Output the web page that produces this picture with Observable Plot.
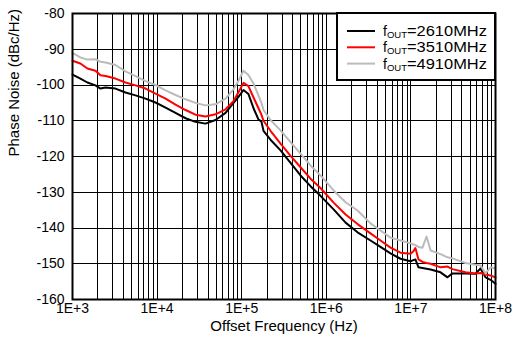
<!DOCTYPE html>
<html><head><meta charset="utf-8">
<script src="https://cdn.jsdelivr.net/npm/d3@7"></script>
<script src="https://cdn.jsdelivr.net/npm/@observablehq/plot@0.6"></script>
<style>body{margin:0;background:#fff}</style>
</head><body><div id="chart"></div>
<script>
// Offset frequencies (Hz) shared by the three traces
const freqHz = [1000,1240,1500,1870,2140,2460,3220,4230,5560,7300,9570,12600,16500,21700,28400,37300,49000,64400,80000,91600,105000,120000,138000,158000,171000,181000,219000,288000,378000,496000,651000,854000,1.22e6,1.69e6,2.34e6,3.33e6,4.37e6,5.74e6,7.54e6,9.9e6,1.07e7,1.13e7,1.23e7,1.37e7,1.53e7,1.71e7,2.24e7,2.71e7,3.1e7,4.42e7,5.8e7,6.66e7,7.62e7,8.73e7,1e8];
// Phase noise (dBc/Hz)
const pn2610 = [-97.1,-98.2,-99.3,-100.1,-101.0,-100.7,-101.0,-102.1,-102.9,-103.8,-104.9,-106.3,-107.8,-109.3,-110.3,-110.8,-109.8,-107.8,-105.0,-103.3,-101.4,-102.5,-106.5,-109.7,-110.2,-112.8,-115.3,-118.3,-121.8,-125.3,-128.3,-131.0,-134.8,-138.5,-141.2,-143.5,-145.3,-147.1,-148.6,-149.3,-149.0,-148.8,-151.0,-151.2,-151.4,-151.6,-152.4,-153.8,-152.7,-152.7,-152.8,-151.3,-153.8,-154.5,-155.6];
const pn3510 = [-93.2,-94.0,-95.4,-96.0,-97.3,-97.5,-98.2,-99.3,-100.1,-101.0,-102.4,-103.8,-105.5,-107.0,-108.3,-108.8,-108.2,-106.8,-104.5,-102.0,-99.4,-100.3,-103.5,-106.5,-108.3,-110.0,-112.8,-116.4,-119.8,-123.0,-126.2,-128.8,-132.9,-136.2,-138.9,-141.5,-143.5,-145.5,-146.9,-147.2,-146.5,-145.6,-148.8,-149.5,-149.8,-150.0,-151.0,-150.8,-151.5,-152.4,-152.7,-152.6,-153.0,-153.3,-153.8];
const pn4910 = [-91.0,-92.3,-92.9,-92.8,-93.5,-93.7,-94.4,-96.2,-97.5,-98.9,-100.0,-101.5,-102.8,-104.0,-105.0,-105.7,-105.4,-103.8,-101.2,-98.8,-96.0,-97.2,-99.6,-103.0,-105.0,-107.0,-109.8,-112.7,-116.0,-119.2,-122.5,-125.3,-129.5,-132.8,-135.1,-138.7,-140.7,-142.7,-143.5,-144.3,-144.6,-144.8,-145.3,-145.5,-142.4,-146.3,-147.3,-148.2,-148.5,-149.8,-150.3,-150.5,-152.7,-151.0,-151.3];
const seriesValues = [pn2610, pn3510, pn4910];
const seriesFreq = ["2610", "3510", "4910"];
const seriesColors = ["#000000", "#ff0000", "#bbbbbb"];
// Axes
const xTickValues = [1e3, 1e4, 1e5, 1e6, 1e7, 1e8];
const xTickLabels = ["1E+3", "1E+4", "1E+5", "1E+6", "1E+7", "1E+8"];
const yTickValues = [-160, -150, -140, -130, -120, -110, -100, -90, -80];
const gridDecades = [1e3, 1e4, 1e5, 1e6, 1e7];
const gridMantissas = [1, 2, 3, 4, 5, 6, 7, 8, 9];

const data = seriesValues.flatMap((vals, s) =>
  vals.map((v, i) => ({f: freqHz[i], pn: v, series: seriesFreq[s]})));
const vGrid = gridDecades.flatMap(d => gridMantissas.map(m => d * m)).concat([1e8]);

const font = "'Liberation Sans', Arial, Helvetica, sans-serif";
const svg = Plot.plot({
  width: 513, height: 343,
  marginLeft: 72, marginRight: 18, marginTop: 13, marginBottom: 44,
  style: {fontFamily: font, fontSize: "14px", background: "white", color: "black"},
  x: {type: "log", domain: [1e3, 1e8], ticks: xTickValues,
      tickFormat: d => xTickLabels[xTickValues.indexOf(d)], tickSize: 0, tickPadding: 4, label: null},
  y: {domain: [-160, -80], ticks: yTickValues, tickFormat: d => String(d), tickSize: 0, tickPadding: 8, label: null},
  color: {domain: seriesFreq, range: seriesColors},
  marks: [
    Plot.ruleX(vGrid, {stroke: "black", strokeWidth: 1, shapeRendering: "crispEdges"}),
    Plot.ruleY(yTickValues, {stroke: "black", strokeWidth: 1, shapeRendering: "crispEdges"}),
    Plot.line(data, {x: "f", y: "pn", z: "series", stroke: "series", strokeWidth: 2, curve: "linear"}),
    Plot.frame({stroke: "black", strokeWidth: 2}),
    Plot.text(["Offset Frequency (Hz)"], {frameAnchor: "bottom", dy: 31, fontSize: 15, fill: "black"}),
    Plot.text(["Phase Noise (dBc/Hz)"], {frameAnchor: "left", dx: -58, rotate: -90, fontSize: 15, fill: "black"})
  ]
});
document.getElementById("chart").appendChild(svg);

// Legend box (top right, inside the frame)
const root = d3.select(svg);
const lg = root.append("g").attr("font-family", font).attr("text-anchor", "start");
lg.append("rect").attr("x", 337).attr("y", 13).attr("width", 158).attr("height", 67)
  .attr("fill", "white").attr("stroke", "black").attr("stroke-width", 2);
seriesFreq.forEach((fq, i) => {
  const y = 31 + i * 16.3;
  lg.append("line").attr("x1", 347).attr("x2", 375).attr("y1", y).attr("y2", y)
    .attr("stroke", seriesColors[i]).attr("stroke-width", 2);
  const t = lg.append("text").attr("x", 383).attr("y", y + 5).attr("font-size", 14)
    .attr("fill", "black").attr("text-anchor", "start");
  t.append("tspan").text("f");
  t.append("tspan").attr("font-size", 9.5).attr("dy", 2).text("OUT");
  t.append("tspan").attr("dy", -2).attr("textLength", 80).attr("lengthAdjust", "spacingAndGlyphs").text("=" + fq + "MHz");
});
</script></body></html>
